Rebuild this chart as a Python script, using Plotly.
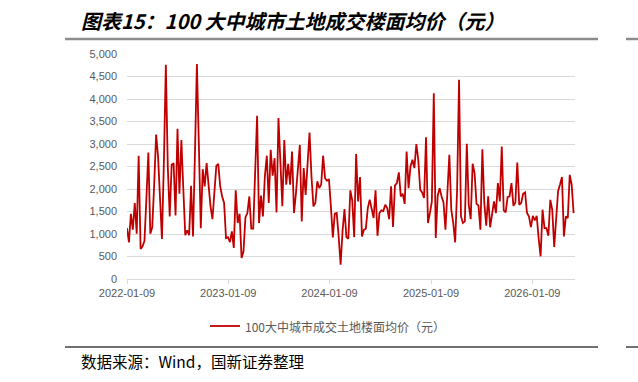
import plotly.graph_objects as go
import pandas as pd

# ---------------- data ----------------
start_date = "2022-01-09"
series_name = "100大中城市成交土地楼面均价（元）"
values = [
    1130, 815, 1450, 1095, 1690, 1005, 2740, 665, 725, 850,
    1800, 2810, 1005, 1150, 2100, 3210, 2720, 1800, 890, 2600,
    4760, 2500, 1390, 2540, 2575, 1410, 3340, 1895, 3090, 2000,
    975, 1080, 975, 2070, 945, 2800, 4780, 3000, 1130,
    2440, 2060, 2575, 1990, 1615, 1330, 1910, 2515, 2560, 2060,
    1835, 1690, 910, 930, 820, 1060, 690, 1970, 1245, 1450,
    465, 615, 1375, 1465, 1835, 1120, 1120, 2300, 3625, 1245,
    1855, 1390, 2280, 2740, 1690, 2870, 2295, 2685, 1480,
    3575, 2600, 1615, 3090, 2095, 2560, 2095, 2835, 1465, 1900,
    2500, 2980, 1280, 2465, 1870, 2600, 3255, 2280, 1615, 1690,
    2170, 2020, 2100, 2740, 2240, 2185, 2220, 1615, 925, 1450,
    1465, 945, 320, 1060, 1555, 930, 895, 1970, 1745, 930,
    2780, 1725, 2265, 945, 1095, 1120, 1575, 1760, 1560, 1355,
    1970, 960, 1465, 1525, 1510, 1650, 1575, 1330, 2060, 1155,
    2080, 2130, 2370, 1835, 1895, 1670, 2835, 2020, 2500, 2650,
    2465, 3000, 2650, 1985, 1925, 1800, 3150, 1245,
    1465, 1725, 4130, 910, 1850, 2020, 1835, 1700, 1095, 1985,
    2760, 1540, 1245, 815, 1985, 4425, 1390, 1245, 1280, 3005,
    1650, 1330, 2560, 2355, 1670, 1635, 1095, 2885, 1690, 1185,
    1835, 1150, 1465, 1725, 1465, 2130, 1725, 2945, 1525,
    1480, 1820, 1835, 2130, 1625, 1700, 2590, 1650, 1690, 1895,
    1925, 1465, 1390, 1155, 1405, 1300, 1405, 900, 505, 1540,
    1130, 1130, 960, 1760, 1540, 710, 1400, 1950, 2100, 2265,
    945, 1390, 1355, 2315, 2095, 1465,
]
x_tick_labels = ["2022-01-09", "2023-01-09", "2024-01-09", "2025-01-09", "2026-01-09"]
y_tick_values = [0, 500, 1000, 1500, 2000, 2500, 3000, 3500, 4000, 4500, 5000]
title_text = "图表15：100 大中城市土地成交楼面均价（元）"
source_text = "数据来源：Wind，国新证券整理"

dates = pd.date_range(start_date, periods=len(values), freq="7D")

# ---------------- layout helpers (pixel -> paper) ----------------
W, H = 638, 382
L, R, T, B = 127, 575, 54, 279
def px(x):
    return (x - L) / (R - L)
def py(y):
    return (B - y) / (B - T)

RED = "#C00000"
GRID = "#d9d9d9"
TXT = "#595959"
CJK = "Noto Sans CJK SC"

fig = go.Figure()
fig.add_trace(go.Scatter(
    x=dates, y=values, mode="lines", name=series_name,
    line=dict(color=RED, width=1.8), showlegend=False,
))

fig.update_layout(
    width=W, height=H,
    margin=dict(l=L, r=W - R, t=T, b=H - B, pad=0),
    paper_bgcolor="white", plot_bgcolor="white",
    xaxis=dict(
        type="date", range=["2022-01-09", "2026-06-12"],
        tickvals=x_tick_labels, ticktext=x_tick_labels,
        ticks="outside", ticklen=4, tickcolor=GRID, tickwidth=1,
        showline=True, linecolor=GRID, linewidth=1,
        showgrid=False, zeroline=False,
        tickfont=dict(family="Liberation Sans", size=11, color=TXT),
    ),
    yaxis=dict(
        range=[0, 5000], tickvals=y_tick_values, tickformat=",",
        showgrid=True, gridcolor=GRID, gridwidth=1,
        zeroline=False, showline=False, ticks="",
        ticklabelstandoff=9,
        tickfont=dict(family="Liberation Sans", size=11, color=TXT),
    ),
)

shapes = [
    # rule under the title
    dict(type="line", xref="paper", yref="paper", x0=px(65), x1=px(598), y0=py(39), y1=py(39),
         line=dict(color="#8c8c8c", width=2.5)),
    dict(type="line", xref="paper", yref="paper", x0=px(626), x1=px(640), y0=py(39), y1=py(39),
         line=dict(color="#8c8c8c", width=2.5)),
    # legend line
    dict(type="line", xref="paper", yref="paper", x0=px(210), x1=px(240), y0=py(326), y1=py(326),
         line=dict(color=RED, width=1.8)),
    # rule above the source
    dict(type="line", xref="paper", yref="paper", x0=px(65), x1=px(598), y0=py(347), y1=py(347),
         line=dict(color="#404040", width=1.5)),
    dict(type="line", xref="paper", yref="paper", x0=px(626), x1=px(640), y0=py(347), y1=py(347),
         line=dict(color="#404040", width=1.5)),
]
fig.update_layout(shapes=shapes)

annotations = [
    dict(text="<b><i>" + title_text + "</i></b>", xref="paper", yref="paper",
         x=px(79), y=py(21), xanchor="left", yanchor="middle", showarrow=False,
         font=dict(family=CJK, size=20, color="black")),
    dict(text=series_name, xref="paper", yref="paper",
         x=px(243), y=py(326), xanchor="left", yanchor="middle", showarrow=False,
         font=dict(family=CJK, size=12, color=TXT)),
    dict(text=source_text, xref="paper", yref="paper",
         x=px(79), y=py(361), xanchor="left", yanchor="middle", showarrow=False,
         font=dict(family=CJK, size=15.5, color="black")),
]
fig.update_layout(annotations=annotations)

fig.write_html("out.html")
